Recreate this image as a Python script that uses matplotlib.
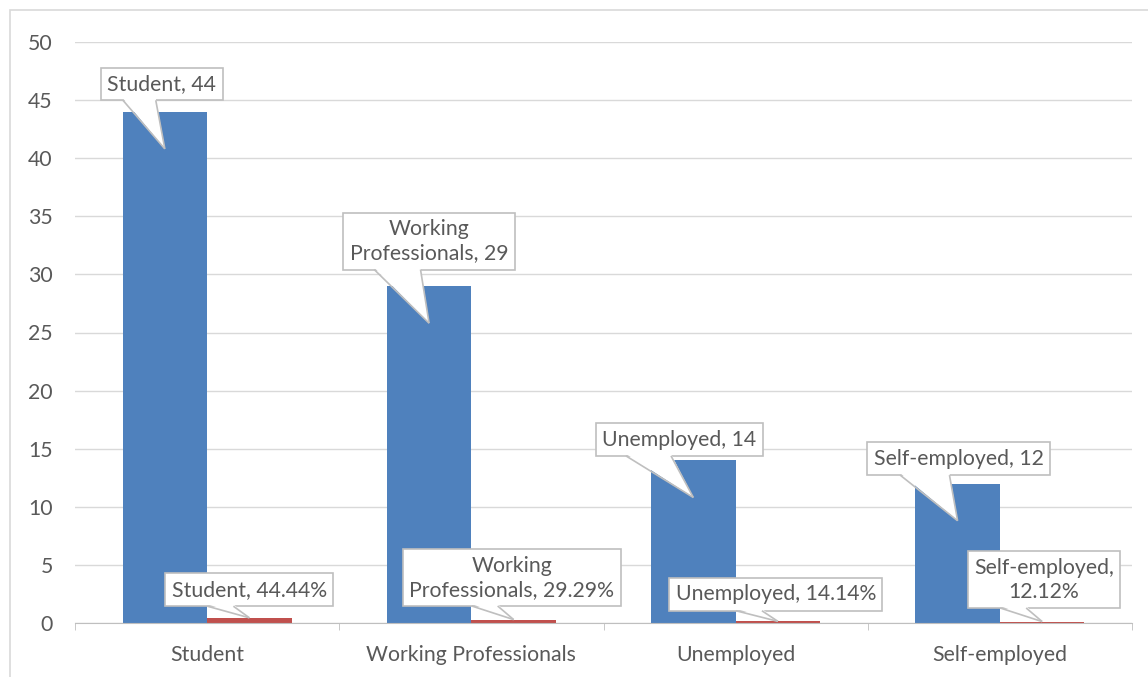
import matplotlib.pyplot as plt
import numpy as np
from matplotlib.patches import Polygon, Rectangle

plt.rcParams['font.family'] = ['Lato', 'DejaVu Sans']

categories = ['Student', 'Working Professionals', 'Unemployed', 'Self-employed']
counts = [44, 29, 14, 12]
shares = [0.4444, 0.2929, 0.1414, 0.1212]

# callout texts, line breaks where the boxes wrap
count_texts = ['Student, 44', 'Working\nProfessionals, 29',
               'Unemployed, 14', 'Self-employed, 12']
share_texts = ['Student, 44.44%', 'Working\nProfessionals, 29.29%',
               'Unemployed, 14.14%', 'Self-employed,\n12.12%']

# label centre relative to the wedge tip, in pixels
count_offsets = [(-3, 65), (0, 82), (-14, 58), (1, 62)]
share_offsets = [(0, 28), (-2, 42), (-2, 27), (2, 42)]

TEXT = '#595959'
EDGE = '#bfbfbf'
GRID = '#d9d9d9'
BLUE = '#4f81bd'
RED = '#c0504d'
FS = 15.3

fig = plt.figure(figsize=(11.48, 6.77), dpi=100)
ax = fig.add_axes([75 / 1148, 54 / 677, 1057 / 1148, 581 / 677])

x = np.arange(len(categories))
w = 0.32
ax.bar(x - w / 2, counts, width=w, color=BLUE, zorder=2)
ax.bar(x + w / 2, shares, width=w, color=RED, zorder=2)

ax.set_xlim(-0.5, len(categories) - 0.5)
ax.set_ylim(0, 50)
ax.set_yticks(np.arange(0, 51, 5))
ax.yaxis.grid(True, color=GRID, lw=1, zorder=0)
ax.set_axisbelow(True)

ax.set_xticks(x)
ax.set_xticklabels(categories)
ax.set_xticks(np.arange(-0.5, len(categories)), minor=True)
ax.tick_params(axis='x', which='major', length=0, pad=16, labelsize=FS,
               labelcolor=TEXT)
ax.tick_params(axis='x', which='minor', length=5, color=EDGE, direction='out')
ax.tick_params(axis='y', length=0, pad=16, labelsize=FS, labelcolor=TEXT)

for side in ['top', 'right', 'left']:
    ax.spines[side].set_visible(False)
ax.spines['bottom'].set_color(EDGE)
ax.spines['bottom'].set_zorder(3)

callouts = []
for i in range(len(categories)):
    tip = (x[i] - w / 2, counts[i] - 3.2)
    callouts.append((count_texts[i], tip, count_offsets[i], 'box'))
    tip = (x[i] + w / 2, shares[i])
    callouts.append((share_texts[i], tip, share_offsets[i], 'tip'))

drawn = []
for text, tip, offset, mode in callouts:
    ann = ax.annotate(text, xy=tip, xytext=offset, textcoords='offset pixels',
                      ha='center', va='center', fontsize=FS, color=TEXT,
                      linespacing=1.25, zorder=5,
                      bbox=dict(boxstyle='square,pad=0.3', fc='white',
                                ec=EDGE, lw=1.2))
    drawn.append((ann, tip, mode))

# wedge pointers hang off the bottom edge of each box, so the box
# extents are needed first
fig.canvas.draw()
renderer = fig.canvas.get_renderer()
to_data = ax.transData.inverted()
for ann, tip, mode in drawn:
    bb = ann.get_bbox_patch().get_window_extent(renderer)
    tx, ty = ax.transData.transform(tip)
    if mode == 'box':
        x0, x1 = bb.x0 + 0.18 * bb.width, bb.x0 + 0.45 * bb.width
    else:
        x0, x1 = tx - 42, tx - 16
    y0 = bb.y0
    fill = to_data.transform([(x0, y0 + 2), (x1, y0 + 2), (tx, ty)])
    ax.add_patch(Polygon(fill, closed=True, fc='white', ec='none',
                         zorder=6, clip_on=False))
    for bx in (x0, x1):
        seg = to_data.transform([(bx, y0), (tx, ty)])
        ax.plot(seg[:, 0], seg[:, 1], color=EDGE, lw=1.2, zorder=7,
                clip_on=False, solid_capstyle='butt')

# chart area border
fig.patches.append(Rectangle((10 / 1148, -0.1), 1.2, (667 / 677) + 0.1,
                             transform=fig.transFigure, fill=False,
                             ec=GRID, lw=1.2))

fig.savefig('out.png', dpi=100)
